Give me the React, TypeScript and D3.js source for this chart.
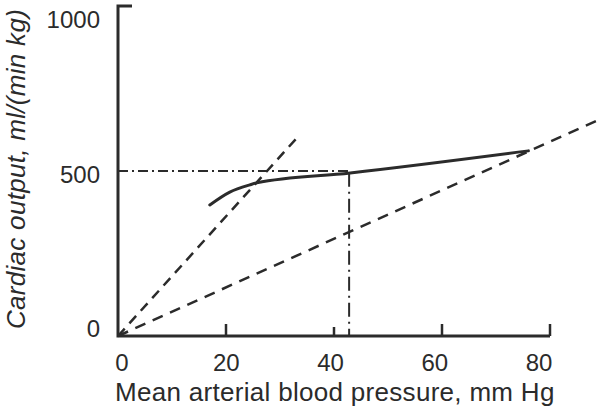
import React, { useEffect, useRef } from 'react'
import * as d3 from 'd3'

// mean arterial pressure (mm Hg) vs cardiac output (ml/(min kg))
const outputCurve: [number, number][] = [
  [17, 397], [20.7, 436], [24.4, 458], [25.7, 464], [43, 494], [76, 561]
]
const steepLine: [number, number][] = [[0, 0], [33, 598]]
const shallowLine: [number, number][] = [[0, 0], [89, 655]]
const refPressure = 42.8
const refOutput = 500

const xTicks = [20, 40, 60, 80]
const xTickLabels = [0, 20, 40, 60, 80]
const yTickLabels = [0, 500, 1000]

const xTitle = 'Mean arterial blood pressure, mm Hg'
const yTitle = 'Cardiac output, ml/(min kg)'

function App() {
  const svgRef = useRef<SVGSVGElement>(null)
  const width = 602
  const height = 411

  useEffect(() => {
    const svg = d3.select(svgRef.current)
    svg.selectAll('*').remove()

    const ink = '#2b2b2b'
    const font = '"Liberation Sans", Arial, sans-serif'

    const x = d3.scaleLinear().domain([0, 80]).range([118, 550])
    const y = d3.scaleLinear().domain([0, 1000]).range([336, 6])
    // labels in the scan sit slightly off their ticks
    const xLab = d3.scaleLinear().domain([0, 80]).range([122, 539])
    const yLab = d3.scaleLinear().domain([0, 1000]).range([337, 28])

    svg.append('rect').attr('width', width).attr('height', height).attr('fill', '#fff')

    const line = d3.line<[number, number]>()
      .x(d => x(d[0]))
      .y(d => y(d[1]))

    // dashed reference lines through origin
    svg.append('path')
      .datum(steepLine)
      .attr('d', line)
      .attr('fill', 'none')
      .attr('stroke', ink)
      .attr('stroke-width', 2.5)
      .attr('stroke-dasharray', '10,7')

    svg.append('path')
      .datum(shallowLine)
      .attr('d', line)
      .attr('fill', 'none')
      .attr('stroke', ink)
      .attr('stroke-width', 2.5)
      .attr('stroke-dasharray', '11,8')

    // dash-dot guides
    svg.append('path')
      .datum([[0, refOutput], [refPressure, refOutput]] as [number, number][])
      .attr('d', line)
      .attr('fill', 'none')
      .attr('stroke', ink)
      .attr('stroke-width', 2)
      .attr('stroke-dasharray', '10,4,2,4')

    svg.append('path')
      .datum([[refPressure, refOutput - 5], [refPressure, 0]] as [number, number][])
      .attr('d', line)
      .attr('fill', 'none')
      .attr('stroke', ink)
      .attr('stroke-width', 2)
      .attr('stroke-dasharray', '14,5,2,5')

    // measured curve
    svg.append('path')
      .datum(outputCurve)
      .attr('d', line.curve(d3.curveMonotoneX))
      .attr('fill', 'none')
      .attr('stroke', ink)
      .attr('stroke-width', 3)
      .attr('stroke-linecap', 'round')

    // axes
    const axis = svg.append('g').attr('stroke', ink).attr('stroke-width', 3).attr('fill', 'none')
    axis.append('path')
      .attr('d', `M${x(0) + 14},${y(1000)}H${x(0)}V${y(0)}H${x(80)}`)
    axis.selectAll('.xtick')
      .data(xTicks)
      .enter().append('line')
      .attr('x1', d => x(d))
      .attr('x2', d => x(d))
      .attr('y1', y(0))
      .attr('y2', d => y(0) - (d === 40 ? 9 : 12))
      .attr('stroke-width', 2.5)

    // tick labels
    svg.selectAll('.xlabel')
      .data(xTickLabels)
      .enter().append('text')
      .attr('x', d => xLab(d))
      .attr('y', 371)
      .attr('text-anchor', 'middle')
      .style('font-family', font)
      .style('font-size', '24px')
      .style('fill', ink)
      .text(d => d)

    svg.selectAll('.ylabel')
      .data(yTickLabels)
      .enter().append('text')
      .attr('x', 100)
      .attr('y', d => yLab(d))
      .attr('text-anchor', 'end')
      .style('font-family', font)
      .style('font-size', '24px')
      .style('fill', ink)
      .text(d => d)

    // titles
    svg.append('text')
      .attr('x', 115)
      .attr('y', 401)
      .style('font-family', font)
      .style('font-size', '26px')
      .style('letter-spacing', '0.3px')
      .style('fill', ink)
      .text(xTitle)

    svg.append('text')
      .attr('transform', 'translate(25,169) rotate(-90)')
      .attr('text-anchor', 'middle')
      .style('font-family', font)
      .style('font-size', '26px')
      .style('font-style', 'italic')
      .style('letter-spacing', '0.3px')
      .style('fill', ink)
      .text(yTitle)
  }, [])

  return (
    <svg
      ref={svgRef}
      width={width}
      height={height}
      style={{ position: 'absolute', left: 0, top: 0, display: 'block' }}
    />
  )
}

export default App
